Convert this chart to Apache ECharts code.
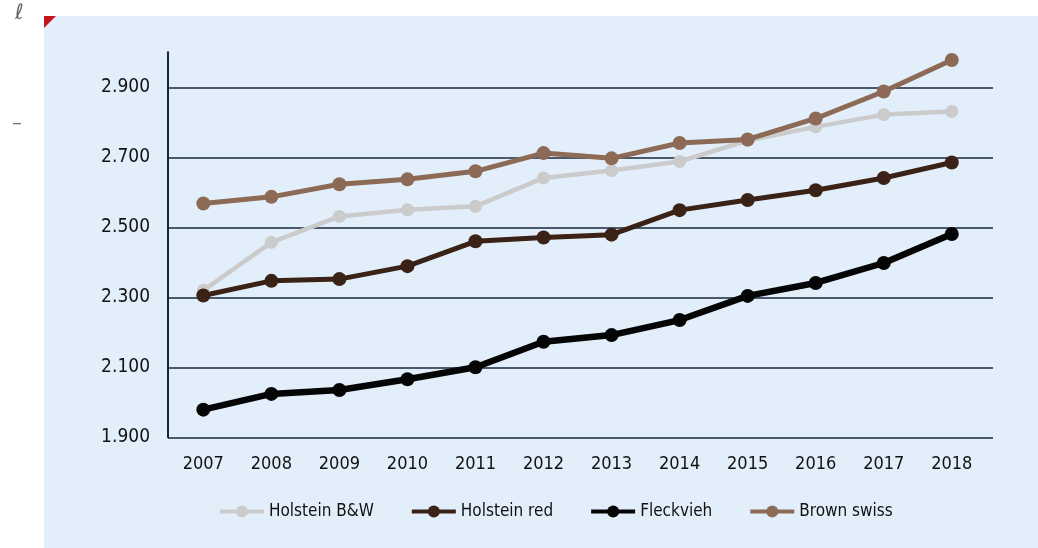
<!DOCTYPE html>
<html>
<head>
<meta charset="utf-8">
<script src="https://cdn.jsdelivr.net/npm/echarts@6/dist/echarts.min.js"></script>
<style>
html,body{margin:0;padding:0;background:#ffffff;}
#chart{width:1038px;height:548px;}
</style>
</head>
<body>
<div id="chart"></div>
<script>
var years = ['2007','2008','2009','2010','2011','2012','2013','2014','2015','2016','2017','2018'];
var holsteinBW = [2320, 2457, 2531, 2550, 2560, 2641, 2662, 2688, 2748, 2787, 2822, 2831];
var holsteinRed = [2305, 2347, 2352, 2389, 2460, 2471, 2479, 2549, 2578, 2606, 2641, 2685];
var fleckvieh = [1979, 2024, 2035, 2066, 2100, 2173, 2192, 2235, 2304, 2341, 2398, 2481];
var brownSwiss = [2568, 2587, 2623, 2637, 2660, 2712, 2697, 2741, 2751, 2811, 2888, 2978];
var seriesNames = ['Holstein B&W', 'Holstein red', 'Fleckvieh', 'Brown swiss'];
var yMin = 1900, yMax = 3000, yStep = 100;

var FONT = '"DejaVu Sans Condensed", "Roboto", sans-serif';
var colors = ['#cbcbcb', '#3a2216', '#050505', '#8c6a56'];
var chart = echarts.init(document.getElementById('chart'), null, {renderer: 'canvas'});

function mkSeries(name, data, color, width, size) {
  return {
    name: name, type: 'line', data: data,
    xAxisIndex: 1, yAxisIndex: 1,
    symbol: 'circle', symbolSize: size,
    lineStyle: {color: color, width: width},
    itemStyle: {color: color},
    emphasis: {disabled: true},
    animation: false
  };
}

var option = {
  backgroundColor: '#ffffff',
  textStyle: {fontFamily: FONT},
  graphic: [
    {type: 'rect', z: -10, shape: {x: 44, y: 16, width: 1000, height: 540}, style: {fill: '#e2effb'}},
    {type: 'polygon', z: -5, shape: {points: [[44,16],[56,16],[44,28]]}, style: {fill: '#c0161c'}},
    {type: 'text', left: 15, top: 3, style: {text: 'ℓ', fill: '#666', font: 'italic 21px "DejaVu Sans"'}},
    {type: 'text', left: 12, top: 114, style: {text: '–', fill: '#777', font: '20px "DejaVu Sans"'}}
  ],
  grid: [
    {left: 168, right: 45, top: 52.3, bottom: 110.7, containLabel: false},
    {left: 169.3, right: 52.2, top: 52.3, bottom: 110.7, containLabel: false}
  ],
  legend: {
    data: seriesNames,
    top: 498, left: 213,
    itemWidth: 44, itemHeight: 15, itemGap: 36,
    lineStyle: {width: 4},
    textStyle: {fontFamily: FONT, fontSize: 17, color: '#111'}
  },
  xAxis: [
    {gridIndex: 0, type: 'category', data: years, show: false},
    {
      gridIndex: 1, type: 'category', data: years, boundaryGap: true,
      axisLine: {show: false}, axisTick: {show: false},
      axisLabel: {fontFamily: FONT, fontSize: 18, color: '#111', margin: 18}
    }
  ],
  yAxis: [
    {
      gridIndex: 0, type: 'value', min: yMin, max: yMax, interval: yStep,
      axisLine: {show: true, lineStyle: {color: '#14263a', width: 2}},
      axisTick: {show: false},
      axisLabel: {
        fontFamily: FONT, fontSize: 19, color: '#111', margin: 18,
        formatter: function (v) { return (v % 200 === 100) ? (v / 1000).toFixed(3) : ''; }
      },
      splitLine: {show: true, showMinLine: true, showMaxLine: true,
        lineStyle: {color: ['#17283a', 'rgba(0,0,0,0)'], width: 1.6}}
    },
    {gridIndex: 1, type: 'value', min: yMin, max: yMax, show: false, splitLine: {show: false}}
  ],
  series: [
    mkSeries(seriesNames[0], holsteinBW, colors[0], 4.5, 13),
    mkSeries(seriesNames[1], holsteinRed, colors[1], 5, 14),
    mkSeries(seriesNames[2], fleckvieh, colors[2], 6.5, 14),
    mkSeries(seriesNames[3], brownSwiss, colors[3], 5, 14)
  ]
};
chart.setOption(option);
</script>
</body>
</html>
